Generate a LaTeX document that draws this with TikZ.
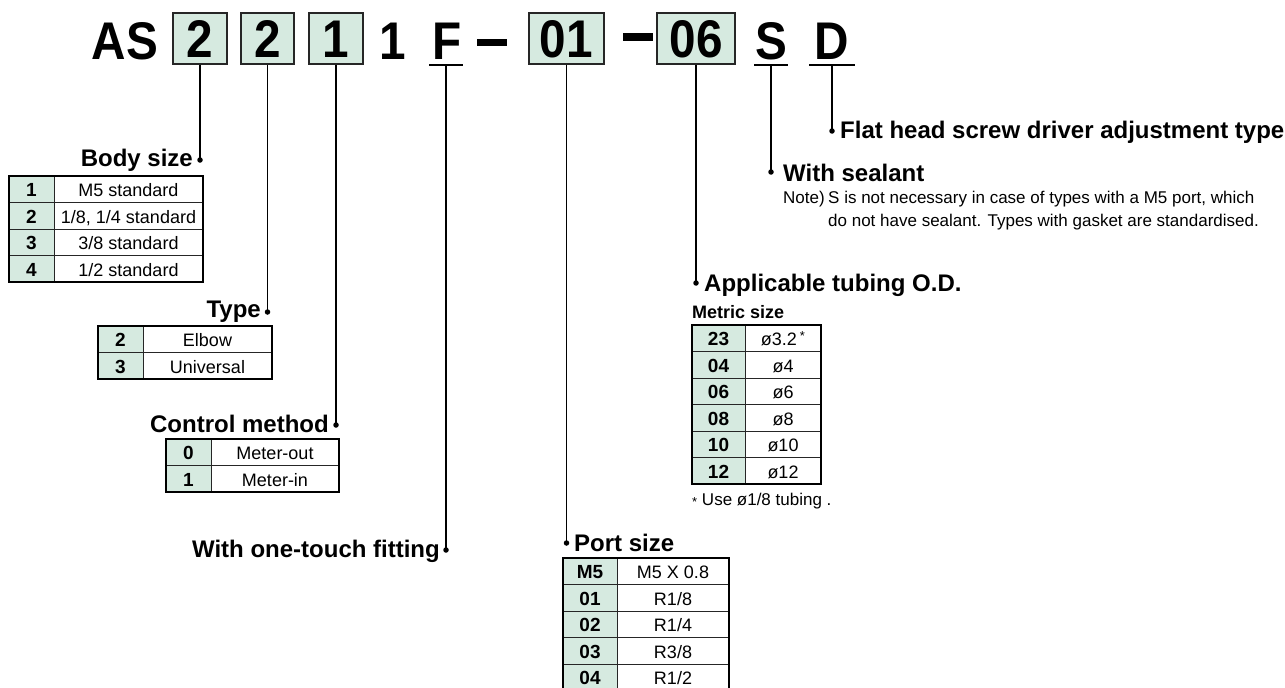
\documentclass[tikz,border=0pt]{standalone}
\usepackage{fontspec}
\setmainfont{Liberation Sans}
\newfontfamily\codefont[FakeStretch=0.9]{Liberation Sans}
\definecolor{keygreen}{RGB}{214,234,224}
\newcommand\kvrow[6]{%
  \fill[keygreen] (#1,#4) rectangle (#2,#4+26.5);
  \draw[cell] (#1,#4) rectangle (#3,#4+26.5);
  \draw[cell] (#2,#4) -- (#2,#4+26.5);
  \node[keytxt] at ({(#1+#2)/2},#4+20.5) {#5};
  \node[valtxt] at ({(#2+#3)/2},#4+20.5) {#6};
}
\newcommand\kvframe[4]{% x0 x1 ytop ybottom
  \draw[frame] (#1,#3) rectangle (#2,#4);
  \draw[topline] (#1,#3) -- (#2,#3);
}
\begin{document}
\begin{tikzpicture}[x=1pt,y=-1pt,
  codetxt/.style={font=\codefont\bfseries\fontsize{53}{53}\selectfont, inner sep=0pt, anchor=base},
  codebox/.style={draw=black!85, line width=1.3pt, fill=keygreen, inner sep=0pt,
     font=\codefont\bfseries\fontsize{53}{53}\selectfont, minimum height=51pt,
     text height=38pt, text depth=0pt},
  dashbar/.style={inner sep=0pt, fill=black, minimum width=30pt, minimum height=7.5pt},
  head/.style={font=\bfseries\fontsize{24}{28}\selectfont, inner sep=0pt},
  small head/.style={font=\bfseries\fontsize{18}{20}\selectfont, inner sep=0pt},
  conn/.style={line width=1.7pt},
  uline/.style={line width=1.5pt},
  dotn/.style={circle, fill=black, inner sep=0pt, minimum size=5.5pt},
  keytxt/.style={font=\bfseries\fontsize{19}{20}\selectfont, inner sep=0pt, anchor=base},
  valtxt/.style={font=\fontsize{18}{20}\selectfont, inner sep=0pt, anchor=base},
  notetxt/.style={font=\fontsize{17}{20}\selectfont, inner sep=0pt, anchor=base west},
  cell/.style={line width=0.9pt, draw=black!85},
  frame/.style={line width=1.2pt},
  topline/.style={line width=2pt},
]
\useasboundingbox (0,0) rectangle (1285,688);

% ---------- top code row ----------
\node[codetxt] (tAS) at (125,59) {AS};
\node[codebox, minimum width=54pt] (b1) at (200,38.5) {2};
\node[codebox, minimum width=53pt] (b2) at (267.5,38.5) {2};
\node[codebox, minimum width=54pt] (b3) at (336,38.5) {1};
\node[codetxt] (t1) at (393,59) {1};
\node[codetxt] (tF) at (447,59) {F};
\node[dashbar] (m1) at (492,42.5) {};
\node[codebox, minimum width=75pt] (b01) at (566.5,38.5) {01};
\node[dashbar] (m2) at (637.5,37) {};
\node[codebox, minimum width=78pt] (b06) at (696,38.5) {06};
\node[codetxt] (tS) at (771,59) {S};
\node[codetxt] (tD) at (832,59) {D};

\coordinate (uF) at (446,65);
\coordinate (uS) at (771,65);
\coordinate (uD) at (832,65);
\draw[uline] ([xshift=-17pt]uF) -- ([xshift=17pt]uF);
\draw[uline] ([xshift=-17pt]uS) -- ([xshift=17pt]uS);
\draw[uline] ([xshift=-23pt]uD) -- ([xshift=23pt]uD);

% ---------- dots ----------
\node[dotn] (dBody) at (200,160) {};
\node[dotn] (dType) at (267.5,312) {};
\node[dotn] (dCtrl) at (336,425) {};
\node[dotn] (dF) at (446,550) {};
\node[dotn] (dPort) at (566.5,543) {};
\node[dotn] (dTube) at (696,283) {};
\node[dotn] (dS) at (771,172) {};
\node[dotn] (dD) at (832,131) {};

% ---------- connectors ----------
\draw[conn] (b1.south) -- (dBody.center);
\draw[conn] (b2.south) -- (dType.center);
\draw[conn] (b3.south) -- (dCtrl.center);
\draw[conn] (uF) -- (dF.center);
\draw[conn] (b01.south) -- (dPort.center);
\draw[conn] (b06.south) -- (dTube.center);
\draw[conn] (uS) -- (dS.center);
\draw[conn] (uD) -- (dD.center);

% ---------- headings ----------
\node[head, anchor=base east] (hBody) at (193,166) {Body size};
\node[head, anchor=base east] (hType) at (261,317) {Type};
\node[head, anchor=base east] (hCtrl) at (329,432) {Control method};
\node[head, anchor=base east] (hF) at (440,557) {With one-touch fitting};
\node[head, anchor=base west] (hPort) at (574,551) {Port size};
\node[head, anchor=base west] (hTube) at (704,291) {Applicable tubing O.D.};
\node[small head, anchor=base west] (hMetric) at (692,318) {Metric size};
\node[head, anchor=base west] (hS) at (783,181) {With sealant};
\node[head, anchor=base west] (hD) at (840,138) {Flat head screw driver adjustment type};

\node[notetxt] (nNote) at (783,203) {Note)};
\node[notetxt] (nL1) at (828,203) {S is not necessary in case of types with a M5 port, which};
\node[notetxt] (nL2) at (828,226) {do not have sealant. Types with gasket are standardised.};
\node[notetxt] (nUse) at (692,505) {{\fontsize{13}{13}\selectfont\raisebox{-1pt}{*}} Use ø1/8 tubing .};

% ---------- tables ----------
% Body size
\kvrow{9}{54}{203}{176}{1}{M5 standard}
\kvrow{9}{54}{203}{202.5}{2}{1/8, 1/4 standard}
\kvrow{9}{54}{203}{229}{3}{3/8 standard}
\kvrow{9}{54}{203}{255.5}{4}{1/2 standard}
\kvframe{9}{203}{176}{282}
% Type
\kvrow{98}{143}{272}{326}{2}{Elbow}
\kvrow{98}{143}{272}{352.5}{3}{Universal}
\kvframe{98}{272}{326}{379}
% Control method
\kvrow{166}{211}{339}{439}{0}{Meter-out}
\kvrow{166}{211}{339}{465.5}{1}{Meter-in}
\kvframe{166}{339}{439}{492}
% Metric size
\kvrow{692}{745}{821}{325}{23}{ø3.2\,\raisebox{5pt}{\fontsize{13}{13}\selectfont *}}
\kvrow{692}{745}{821}{351.5}{04}{ø4}
\kvrow{692}{745}{821}{378}{06}{ø6}
\kvrow{692}{745}{821}{404.5}{08}{ø8}
\kvrow{692}{745}{821}{431}{10}{ø10}
\kvrow{692}{745}{821}{457.5}{12}{ø12}
\kvframe{692}{821}{325}{484}
% Port size
\kvrow{563}{617}{729}{558}{M5}{M5 X 0.8}
\kvrow{563}{617}{729}{584.5}{01}{R1/8}
\kvrow{563}{617}{729}{611}{02}{R1/4}
\kvrow{563}{617}{729}{637.5}{03}{R3/8}
\kvrow{563}{617}{729}{664}{04}{R1/2}
\kvframe{563}{729}{558}{690.5}
\end{tikzpicture}
\end{document}
